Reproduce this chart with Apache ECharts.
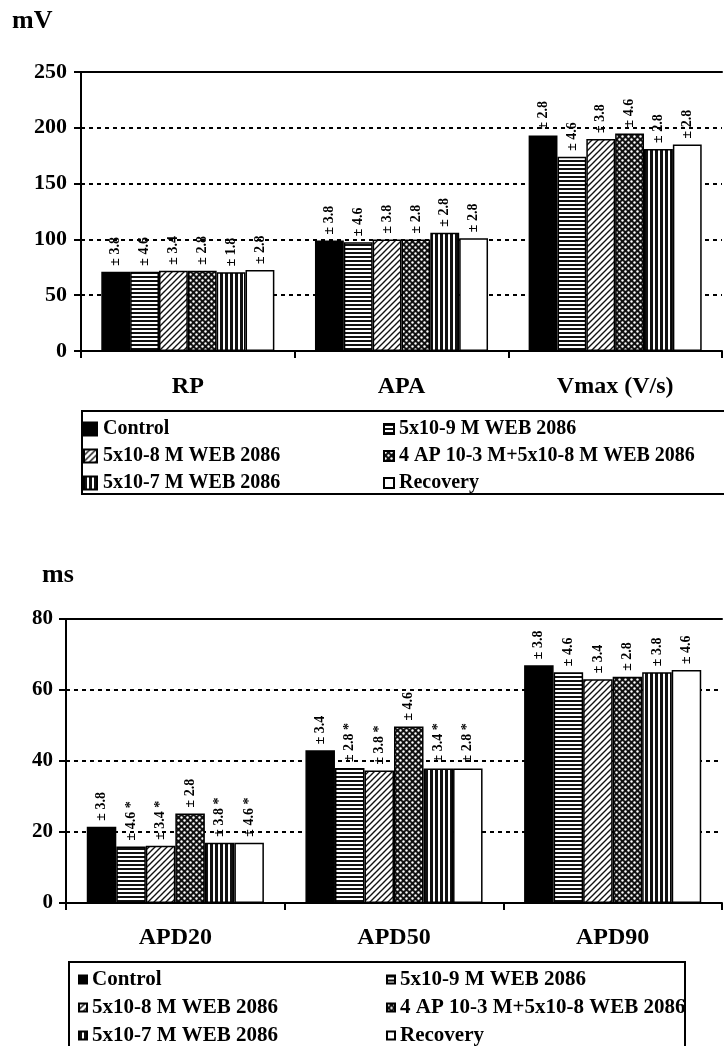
<!DOCTYPE html>
<html>
<head>
<meta charset="utf-8">
<script src="https://cdn.jsdelivr.net/npm/echarts@6/dist/echarts.min.js"></script>
<style>
html,body{margin:0;padding:0;background:#fff;}
#c{width:724px;height:1046px;}
</style>
</head>
<body>
<div id="c"></div>
<script>
// ---- data ----
const topCategories = ['RP', 'APA', 'Vmax (V/s)'];
const bottomCategories = ['APD20', 'APD50', 'APD90'];
const topNames = ['Control', '5x10-9 M WEB 2086', '5x10-8 M WEB 2086', '4 AP 10-3 M+5x10-8 M WEB 2086', '5x10-7 M WEB 2086', 'Recovery'];
const bottomNames = ['Control', '5x10-9 M WEB 2086', '5x10-8 M WEB 2086', '4 AP 10-3 M+5x10-8 WEB 2086', '5x10-7 M WEB 2086', 'Recovery'];
const topTicks = [0, 50, 100, 150, 200, 250];
const bottomTicks = [0, 20, 40, 60, 80];

// top chart (mV) values per series: RP, APA, Vmax
const topControl = [71, 99, 193];
const topWeb9 = [71, 97.5, 174];
const topWeb8 = [72, 100, 190];
const topAp4 = [72, 100, 195];
const topWeb7 = [70.5, 106, 181];
const topRecovery = [72.5, 101, 185];
// SEM labels top
const topErrControl = [3.8, 3.8, 2.8];
const topErrWeb9 = [4.6, 4.6, 4.6];
const topErrWeb8 = [3.4, 3.8, 3.8];
const topErrAp4 = [2.8, 2.8, 4.6];
const topErrWeb7 = [1.8, 2.8, 2.8];
const topErrRecovery = [2.8, 2.8, 2.8];

// bottom chart (ms) values per series: APD20, APD50, APD90
const botControl = [21.5, 43, 67];
const botWeb9 = [15.9, 38, 65];
const botWeb8 = [16.1, 37.3, 63];
const botAp4 = [25.2, 49.7, 63.7];
const botWeb7 = [17, 37.9, 65];
const botRecovery = [17, 37.9, 65.6];
// SEM labels bottom
const botErrControl = [3.8, 3.4, 3.8];
const botErrWeb9 = [4.6, 2.8, 4.6];
const botErrWeb8 = [3.4, 3.8, 3.4];
const botErrAp4 = [2.8, 4.6, 2.8];
const botErrWeb7 = [3.8, 3.4, 3.8];
const botErrRecovery = [4.6, 2.8, 4.6];
// significance stars bottom
const botStarControl = [0, 0, 0];
const botStarWeb9 = [1, 1, 0];
const botStarWeb8 = [1, 1, 0];
const botStarAp4 = [0, 0, 0];
const botStarWeb7 = [1, 1, 0];
const botStarRecovery = [1, 1, 0];

// ---- patterns ----
function pat(w, h, draw) {
  const cv = document.createElement('canvas');
  cv.width = w; cv.height = h;
  const g = cv.getContext('2d');
  draw(g, w, h);
  return { image: cv, repeat: 'repeat' };
}
const fillControl = '#000';
const fillWeb9 = pat(4, 4, (g, w, h) => { g.fillStyle = '#fff'; g.fillRect(0, 0, w, h); g.fillStyle = '#111'; g.fillRect(0, 0, w, 2); });
const fillWeb8 = pat(6, 6, (g, w, h) => {
  g.fillStyle = '#fff'; g.fillRect(0, 0, w, h);
  g.strokeStyle = '#111'; g.lineWidth = 1.4;
  g.beginPath();
  g.moveTo(-1, h + 1); g.lineTo(w + 1, -1);
  g.moveTo(-1 - w, h + 1); g.lineTo(1, -1);
  g.moveTo(w - 1, h + 1); g.lineTo(2 * w + 1, -1);
  g.stroke();
});
const fillAp4 = pat(6, 6, (g, w, h) => {
  g.fillStyle = '#111'; g.fillRect(0, 0, w, h);
  g.fillStyle = '#fff';
  g.beginPath(); g.arc(1.5, 1.5, 1.2, 0, Math.PI * 2); g.fill();
  g.beginPath(); g.arc(4.5, 4.5, 1.2, 0, Math.PI * 2); g.fill();
});
const fillWeb7 = pat(5, 5, (g, w, h) => { g.fillStyle = '#fff'; g.fillRect(0, 0, w, h); g.fillStyle = '#111'; g.fillRect(0, 0, 3, h); });
const fillRecovery = '#fff';
const fills = [fillControl, fillWeb9, fillWeb8, fillAp4, fillWeb7, fillRecovery];

const FONT = 'Liberation Serif';

function fmt(v, star) { return '\u00b1 ' + v.toFixed(1) + (star ? ' *' : ''); }

function barSeries(name, idx, values, errs, stars, xi, yi) {
  return {
    type: 'bar', name: name, xAxisIndex: xi, yAxisIndex: yi,
    barGap: '0%', barCategoryGap: '19%',
    itemStyle: { color: fills[idx], borderColor: '#000', borderWidth: 1.5 },
    data: values.map((v, i) => ({ value: v, errText: fmt(errs[i], stars ? stars[i] : 0) })),
    label: {
      show: true, position: 'top', rotate: 90, align: 'left', verticalAlign: 'middle', distance: 6,
      fontFamily: FONT, fontWeight: 'bold', fontSize: 14, color: '#000',
      formatter: p => p.data.errText
    },
    emphasis: { disabled: true },
    animation: false
  };
}

const topVals = [topControl, topWeb9, topWeb8, topAp4, topWeb7, topRecovery];
const topErrs = [topErrControl, topErrWeb9, topErrWeb8, topErrAp4, topErrWeb7, topErrRecovery];
const botVals = [botControl, botWeb9, botWeb8, botAp4, botWeb7, botRecovery];
const botErrs = [botErrControl, botErrWeb9, botErrWeb8, botErrAp4, botErrWeb7, botErrRecovery];
const botStars = [botStarControl, botStarWeb9, botStarWeb8, botStarAp4, botStarWeb7, botStarRecovery];

const series = [];
topNames.forEach((n, i) => series.push(barSeries(n, i, topVals[i], topErrs[i], null, 0, 0)));
bottomNames.forEach((n, i) => series.push(barSeries(n, i, botVals[i], botErrs[i], botStars[i], 2, 1)));

function catAxis(grid, cats, margin) {
  return {
    type: 'category', gridIndex: grid, data: cats, position: 'bottom',
    axisLine: { lineStyle: { color: '#000', width: 2 } },
    axisTick: { show: true, inside: false, length: 7, lineStyle: { color: '#000', width: 2 } },
    axisLabel: { margin: margin, fontFamily: FONT, fontWeight: 'bold', fontSize: 24, color: '#000' },
    splitLine: { show: false }
  };
}
function topEdge(grid, cats) {
  return {
    type: 'category', gridIndex: grid, data: cats, position: 'top',
    axisLine: { show: true, lineStyle: { color: '#000', width: 2 } },
    axisTick: { show: false }, axisLabel: { show: false }, splitLine: { show: false }
  };
}
function valAxis(grid, ticks, fontSize, margin) {
  return {
    type: 'value', gridIndex: grid, min: ticks[0], max: ticks[ticks.length - 1],
    interval: ticks[1] - ticks[0],
    axisLine: { show: true, lineStyle: { color: '#000', width: 2 } },
    axisTick: { show: true, inside: false, length: 7, lineStyle: { color: '#000', width: 2 } },
    axisLabel: { margin: margin, fontFamily: FONT, fontWeight: 'bold', fontSize: fontSize, color: '#000',
      formatter: v => ticks.indexOf(v) >= 0 ? String(v) : '' },
    splitLine: { show: true, lineStyle: { color: '#000', width: 2, type: [4, 4] } }
  };
}

function legend(data, left, top, size, pad, fs) {
  return {
    data: data, left: left, top: top, orient: 'vertical', padding: 0,
    itemWidth: size, itemHeight: size, itemGap: 7, icon: 'rect',
    selectedMode: false,
    textStyle: { fontFamily: FONT, fontWeight: 'bold', fontSize: fs, lineHeight: 20, color: '#000', padding: [0, 0, 0, pad] }
  };
}

const chart = echarts.init(document.getElementById('c'), null, { renderer: 'canvas' });
chart.setOption({
  backgroundColor: '#fff',
  animation: false,
  grid: [
    { left: 81, top: 72, right: 2, height: 279 },
    { left: 66, top: 619, right: 2, height: 284 }
  ],
  xAxis: [
    catAxis(0, topCategories, 24),
    topEdge(0, topCategories),
    catAxis(1, bottomCategories, 23),
    topEdge(1, bottomCategories)
  ],
  yAxis: [
    valAxis(0, topTicks, 22, 14),
    valAxis(1, bottomTicks, 21, 13)
  ],
  legend: [
    legend([topNames[0], topNames[2], topNames[4]], 83, 419, 13, 1, 20),
    legend([topNames[1], topNames[3], topNames[5]], 383, 419, 10, 0, 20),
    legend([bottomNames[0], bottomNames[2], bottomNames[4]], 78, 969, 8, 0, 21),
    legend([bottomNames[1], bottomNames[3], bottomNames[5]], 386, 969, 8, 0, 21)
  ],
  graphic: [
    { type: 'text', left: 12, top: 8, style: { text: 'mV', font: 'bold 26px "Liberation Serif"', fill: '#000' } },
    { type: 'text', left: 42, top: 562, style: { text: 'ms', font: 'bold 26px "Liberation Serif"', fill: '#000' } },
    { type: 'rect', shape: { x: 82, y: 411, width: 700, height: 83 }, style: { fill: 'none', stroke: '#000', lineWidth: 2 }, silent: true },
    { type: 'rect', shape: { x: 69, y: 962, width: 616, height: 100 }, style: { fill: 'none', stroke: '#000', lineWidth: 2 }, silent: true }
  ],
  series: series
});
</script>
</body>
</html>
